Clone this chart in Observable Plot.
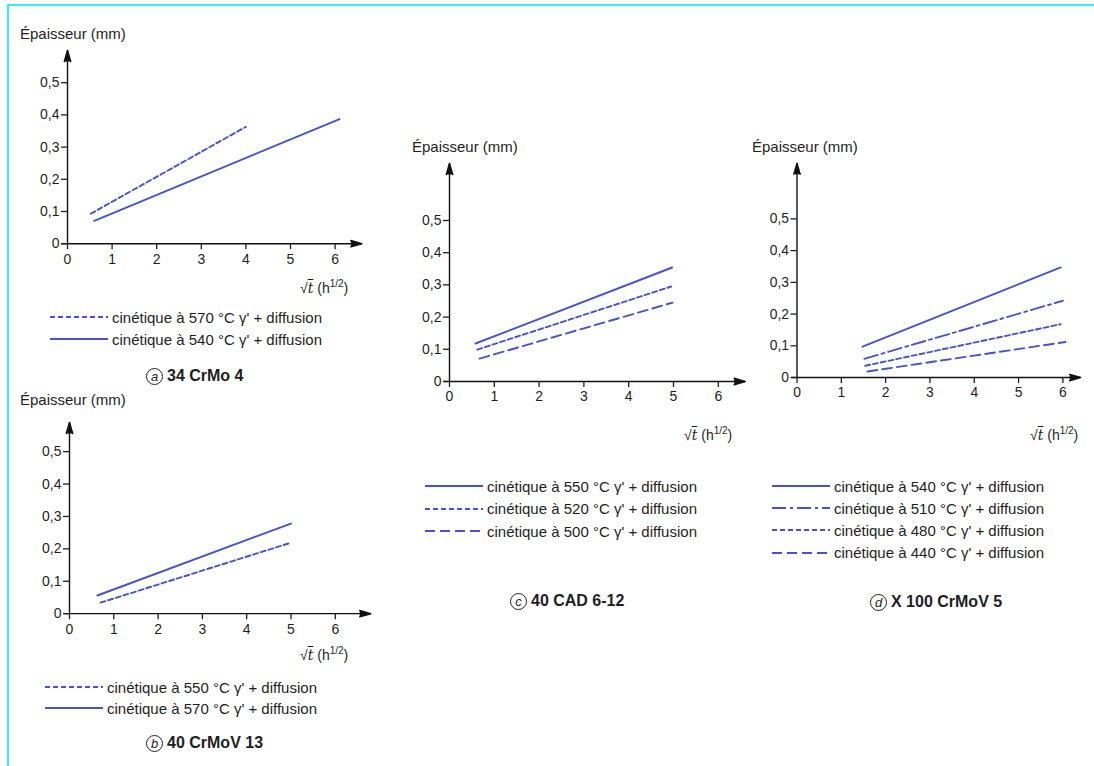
<!DOCTYPE html>
<html><head><meta charset="utf-8">
<script src="https://cdn.jsdelivr.net/npm/d3@7"></script>
<script src="https://cdn.jsdelivr.net/npm/@observablehq/plot@0.6"></script>
<style>
body{margin:0;background:#fff;}
#page{position:relative;width:1094px;height:766px;overflow:hidden;background:#fff;font-family:"Liberation Sans",Arial,sans-serif;color:#1e1e1e;}
.frameTop{position:absolute;left:7px;top:4px;width:1087px;height:2px;background:#33f0f0;}
.frameLeft{position:absolute;left:7px;top:4px;width:2px;height:762px;background:#33f0f0;}
.abs{position:absolute;white-space:nowrap;line-height:1;}
.ytitle{font-size:15px;}
.xlab{font-size:14px;}
.xlab .t{font-family:"DejaVu Serif",serif;font-style:italic;text-decoration:overline;}
.xlab sup{font-size:10px;}
.legrow{position:absolute;display:flex;align-items:center;font-size:15px;height:20px;white-space:nowrap;}
.legrow svg{margin-right:4px;}
.caption{position:absolute;font-weight:bold;font-size:16px;display:flex;align-items:center;white-space:nowrap;}
.circ{display:inline-block;width:15px;height:15px;border:1.5px solid #222;border-radius:50%;text-align:center;line-height:15px;font-style:italic;font-weight:normal;font-size:13px;margin-right:4px;}
.panel{position:absolute;}
</style>
</head><body><div id="page">
<div class="frameTop"></div><div class="frameLeft"></div>
</div>
<script>
// ---------- data ----------
const xTicks = [0, 1, 2, 3, 4, 5, 6];
const yTicks = [0, 0.1, 0.2, 0.3, 0.4, 0.5];
const yTitle = "Épaisseur (mm)";

// (a) 34 CrMo 4
const aCaption = "34 CrMo 4";
const aLabels = ["cinétique à 570 °C γ' + diffusion", "cinétique à 540 °C γ' + diffusion"];
const a570x = [0.52, 4.0],  a570y = [0.093, 0.363];
const a540x = [0.6, 6.1],   a540y = [0.071, 0.387];

// (b) 40 CrMoV 13
const bCaption = "40 CrMoV 13";
const bLabels = ["cinétique à 550 °C γ' + diffusion", "cinétique à 570 °C γ' + diffusion"];
const b550x = [0.7, 5.0],   b550y = [0.034, 0.219];
const b570x = [0.63, 5.0],  b570y = [0.056, 0.278];

// (c) 40 CAD 6-12
const cCaption = "40 CAD 6-12";
const cLabels = ["cinétique à 550 °C γ' + diffusion", "cinétique à 520 °C γ' + diffusion", "cinétique à 500 °C γ' + diffusion"];
const c550x = [0.58, 4.97], c550y = [0.118, 0.354];
const c520x = [0.62, 4.95], c520y = [0.099, 0.295];
const c500x = [0.67, 4.98], c500y = [0.071, 0.245];

// (d) X 100 CrMoV 5
const dCaption = "X 100 CrMoV 5";
const dLabels = ["cinétique à 540 °C γ' + diffusion", "cinétique à 510 °C γ' + diffusion", "cinétique à 480 °C γ' + diffusion", "cinétique à 440 °C γ' + diffusion"];
const d540x = [1.48, 5.95], d540y = [0.097, 0.347];
const d510x = [1.52, 6.0],  d510y = [0.059, 0.242];
const d480x = [1.54, 5.95], d480y = [0.037, 0.168];
const d440x = [1.59, 6.06], d440y = [0.019, 0.112];

// ---------- styles ----------
const BLUE = "#4652d2";
const SOLID = null, SHORT = "5,3", LONG = "10,5", DASHDOT = "14,4,3,4";

const panels = [
  {letter:"a", caption:aCaption, X0:67, Y0:243, kx:44.6, ky:322, xmax:6.6, ymax:0.6,
   series:[{xs:a570x, ys:a570y, dash:SHORT, label:aLabels[0]}, {xs:a540x, ys:a540y, dash:SOLID, label:aLabels[1]}],
   title:[20,26], xlab:[300,279], legend:[50,307,22], cap:[146,367]},
  {letter:"b", caption:bCaption, X0:69, Y0:613, kx:44.3, ky:324, xmax:6.8, ymax:0.59,
   series:[{xs:b550x, ys:b550y, dash:SHORT, label:bLabels[0]}, {xs:b570x, ys:b570y, dash:SOLID, label:bLabels[1]}],
   title:[20,392], xlab:[300,646], legend:[45,677,21], cap:[146,734]},
  {letter:"c", caption:cCaption, X0:449, Y0:381, kx:44.8, ky:322, xmax:6.6, ymax:0.677,
   series:[{xs:c550x, ys:c550y, dash:SOLID, label:cLabels[0]}, {xs:c520x, ys:c520y, dash:SHORT, label:cLabels[1]}, {xs:c500x, ys:c500y, dash:LONG, label:cLabels[2]}],
   title:[412,139], xlab:[684,426], legend:[425,476,22.5], cap:[510,592]},
  {letter:"d", caption:dCaption, X0:797, Y0:379, kx:44.7, ky:320, xmax:6.4, ymax:0.675,
   series:[{xs:d540x, ys:d540y, dash:SOLID, label:dLabels[0]}, {xs:d510x, ys:d510y, dash:DASHDOT, label:dLabels[1]}, {xs:d480x, ys:d480y, dash:SHORT, label:dLabels[2]}, {xs:d440x, ys:d440y, dash:LONG, label:dLabels[3]}],
   title:[752,139], xlab:[1030,426], legend:[772,476,22.2], cap:[870,593]}
];

const page = document.getElementById("page");
const fmtY = d => d === 0 ? "0" : String(d).replace(".", ",");

function addDiv(cls, left, top, html) {
  const el = document.createElement("div");
  el.className = cls;
  el.style.left = left + "px";
  el.style.top = top + "px";
  el.innerHTML = html;
  page.appendChild(el);
  return el;
}

for (const p of panels) {
  const ML = 60, MT = 14, MR = 14, MB = 34;
  const pw = p.xmax * p.kx, ph = p.ymax * p.ky;
  const lineMarks = p.series.map(s => {
    const rows = s.xs.map((x, j) => ({x, y: s.ys[j]}));
    return Plot.line(rows, {x: "x", y: "y", stroke: BLUE, strokeWidth: 1.9, strokeDasharray: s.dash || undefined});
  });
  const chart = Plot.plot({
    width: ML + pw + MR,
    height: MT + ph + MB,
    marginLeft: ML, marginRight: MR, marginTop: MT, marginBottom: MB,
    style: {fontFamily: '"Liberation Sans",Arial,sans-serif', fontSize: "14px", color: "#1e1e1e", background: "transparent", overflow: "visible"},
    x: {domain: [0, p.xmax]},
    y: {domain: [0, p.ymax]},
    marks: [
      Plot.ruleY([0], {x1: -0.12, x2: p.xmax, stroke: "#111", strokeWidth: 1.4}),
      Plot.ruleX([0], {y1: 0, y2: p.ymax, stroke: "#111", strokeWidth: 1.4}),
      Plot.vector([{x: p.xmax, y: 0}], {x: "x", y: "y", rotate: 90, length: 11, shape: "spike", anchor: "end", r: 3.2, fill: "#111", stroke: "#111"}),
      Plot.vector([{x: 0, y: p.ymax}], {x: "x", y: "y", rotate: 0, length: 11, shape: "spike", anchor: "end", r: 3.2, fill: "#111", stroke: "#111"}),
      Plot.axisX({ticks: xTicks, tickSize: 6, tickPadding: 4, label: null, tickFormat: d => String(d), strokeWidth: 1.3, fontSize: 14, fill: "#1e1e1e"}),
      Plot.axisY({ticks: yTicks, tickSize: 6, tickPadding: 2, label: null, tickFormat: fmtY, strokeWidth: 1.3, fontSize: 14, fill: "#1e1e1e"}),
      ...lineMarks
    ]
  });
  const holder = document.createElement("div");
  holder.className = "panel";
  holder.style.left = (p.X0 - ML) + "px";
  holder.style.top = (p.Y0 - ph - MT) + "px";
  holder.appendChild(chart);
  page.appendChild(holder);

  addDiv("abs ytitle", p.title[0], p.title[1], yTitle);
  addDiv("abs xlab", p.xlab[0], p.xlab[1], '√<span class="t">t</span> (h<sup>1/2</sup>)');

  p.series.forEach((s, i) => {
    const y = p.legend[1] + i * p.legend[2];
    const dash = s.dash ? `stroke-dasharray="${s.dash}"` : "";
    addDiv("legrow", p.legend[0], y,
      `<svg width="58" height="6"><line x1="0" y1="3" x2="58" y2="3" stroke="${BLUE}" stroke-width="2" ${dash}/></svg><span>${s.label}</span>`);
  });
  addDiv("caption", p.cap[0], p.cap[1], `<span class="circ">${p.letter}</span>${p.caption}`);
}
</script>
</body></html>
